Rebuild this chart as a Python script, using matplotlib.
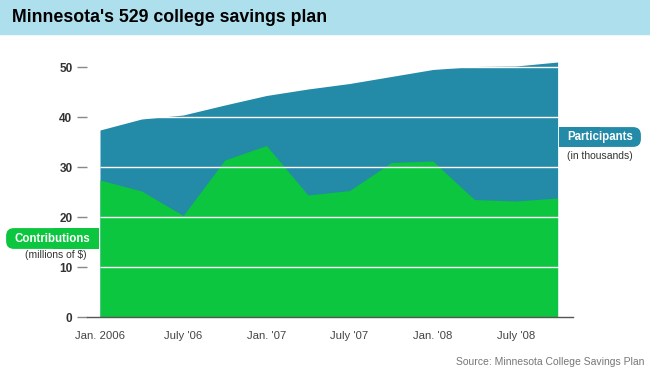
import matplotlib
matplotlib.use("Agg")
import matplotlib.pyplot as plt
from matplotlib.patches import FancyBboxPatch, Rectangle

# quarterly values, Jan. 2006 .. Oct. 2008
quarters = ["Jan. 2006", "Apr. 2006", "July '06", "Oct. 2006", "Jan. '07", "Apr. 2007",
            "July '07", "Oct. 2007", "Jan. '08", "Apr. 2008", "July '08", "Oct. 2008"]
participants = [37.4, 39.6, 40.4, 42.4, 44.3, 45.6, 46.7, 48.1, 49.5, 50.1, 50.2, 51.0]
contributions = [27.4, 25.2, 20.3, 31.4, 34.3, 24.4, 25.3, 30.9, 31.2, 23.5, 23.2, 23.8]
tick_idx = [0, 2, 4, 6, 8, 10]
y_ticks = [0, 10, 20, 30, 40, 50]

teal = "#238aa7"
green = "#0bc63e"
header = "#aedfed"

W, H = 650, 370
fig = plt.figure(figsize=(6.5, 3.7), dpi=100)
plt.rcParams["font.family"] = ["Liberation Sans", "DejaVu Sans"]

def fx(px):
    return px / W

def fy(py):
    return 1 - py / H

# header band
fig.patches.append(Rectangle((0, fy(34)), 1, 34 / H, transform=fig.transFigure,
                             color=header, zorder=0))
fig.text(fx(12), fy(17), "Minnesota's 529 college savings plan", fontsize=12.8,
         fontweight="bold", va="center", ha="left")

# axes: x pixel 87..573, y pixel 40..317
ax = fig.add_axes([fx(87), fy(317), fx(573) - fx(87), (317 - 40) / H])
x = list(range(len(quarters)))
step = 41.6
ax.set_xlim((87 - 100) / step, (573 - 100) / step)
ax.set_ylim(0, (317 - 40) / 5)

ax.fill_between(x, 0, participants, color=teal, lw=0, zorder=1)
ax.fill_between(x, 0, contributions, color=green, lw=0, zorder=2)
ax.hlines(y_ticks[1:], 0, len(quarters) - 1, color="white", lw=1, zorder=3)

for s in ["top", "right", "left"]:
    ax.spines[s].set_visible(False)
ax.spines["bottom"].set_color("#555555")
ax.spines["bottom"].set_linewidth(1)

ax.set_yticks(y_ticks)
ax.set_yticklabels([str(v) for v in y_ticks], fontweight="bold", fontsize=8.5, color="#333333")
ax.tick_params(axis="y", length=7.5, color="#888888", width=1, pad=3)
ax.set_xticks(tick_idx)
ax.set_xticklabels([quarters[i] for i in tick_idx], fontsize=8.2, color="#444444")
ax.tick_params(axis="x", length=0, pad=10)

# series labels
def label_box(x0, y0, x1, y1, color, round_right):
    w, h = x1 - x0, y1 - y0
    fig.patches.append(FancyBboxPatch((fx(x0 + 4), fy(y1 - 4)), (w - 8) / W, (h - 8) / H,
                                      boxstyle="round,pad=0.006,rounding_size=0.012",
                                      transform=fig.transFigure, color=color, lw=0,
                                      mutation_aspect=W / H, zorder=5))
    sx = x0 if round_right else x0 + w / 2
    fig.patches.append(Rectangle((fx(sx), fy(y1)), (w / 2) / W, h / H,
                                 transform=fig.transFigure, color=color, lw=0, zorder=5))

label_box(559, 127, 641, 147, teal, True)
fig.text(fx(600), fy(137), "Participants", color="white", fontweight="bold",
         fontsize=8.3, ha="center", va="center", zorder=6)
fig.text(fx(600), fy(156), "(in thousands)", color="#333333", fontsize=7.5,
         ha="center", va="center", zorder=6)

label_box(6, 228, 99, 249, green, False)
fig.text(fx(52), fy(239), "Contributions", color="white", fontweight="bold",
         fontsize=8.3, ha="center", va="center", zorder=6)
fig.text(fx(87), fy(255), "(millions of $)", color="#333333", fontsize=7.5,
         ha="right", va="center", zorder=6)

fig.text(fx(644), fy(362), "Source: Minnesota College Savings Plan", color="#777777",
         fontsize=7.5, ha="right", va="center")

fig.savefig("out.png", dpi=100)
